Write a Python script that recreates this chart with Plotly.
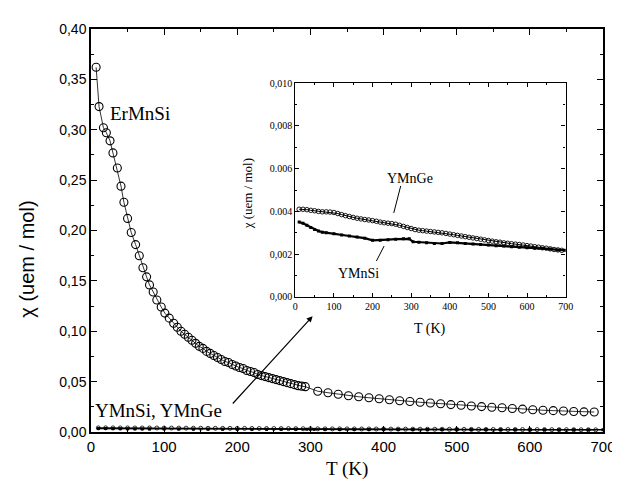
import plotly.graph_objects as go

# ---------------- data ----------------
er_T = [7, 11, 17, 21, 26, 30, 36, 41, 45, 50, 55, 61, 66, 71, 76, 80, 85, 90, 96, 101,
        107, 113, 118, 123, 128, 133, 138, 143, 148, 153, 158, 163, 168, 173, 178, 183,
        188, 193, 198, 203, 208, 213, 218, 223, 228, 233, 238, 243, 248, 253, 258, 263,
        268, 273, 278, 283, 288, 293,
        310, 324, 338, 352, 366, 380, 394, 408, 422, 436, 450, 464, 478, 492, 506, 520,
        534, 548, 562, 576, 590, 604, 618, 632, 646, 660, 674, 688]
er_chi = [0.362, 0.323, 0.302, 0.297, 0.289, 0.277, 0.262, 0.244, 0.228, 0.212, 0.198,
          0.186, 0.175, 0.163, 0.154, 0.146, 0.139, 0.131, 0.124, 0.118, 0.113, 0.108,
          0.104, 0.100, 0.097, 0.094, 0.091, 0.088, 0.085, 0.083, 0.080, 0.078, 0.076,
          0.074, 0.072, 0.070, 0.069, 0.067, 0.0655, 0.064, 0.063, 0.061, 0.060, 0.059,
          0.057, 0.056, 0.055, 0.054, 0.053, 0.052, 0.051, 0.050, 0.049, 0.048, 0.047,
          0.046, 0.0455, 0.045,
          0.0405, 0.039, 0.0375, 0.036, 0.035, 0.034, 0.033, 0.032, 0.031, 0.0302,
          0.0295, 0.0288, 0.0281, 0.0272, 0.0265, 0.0258, 0.0252, 0.0246, 0.0240,
          0.0233, 0.0227, 0.0221, 0.0216, 0.0212, 0.0208, 0.0204, 0.0200, 0.0198]

ge_T = [10, 20, 30, 40, 50, 60, 70, 80, 90, 100, 110, 120, 130, 140, 150, 160, 170, 180,
        190, 200, 210, 220, 230, 240, 250, 260, 270, 280, 290, 300, 310, 320, 330, 340,
        350, 360, 370, 380, 390, 400, 410, 420, 430, 440, 450, 460, 470, 480, 490, 500,
        510, 520, 530, 540, 550, 560, 570, 580, 590, 600, 610, 620, 630, 640, 650, 660,
        670, 680, 690]
ge_chi = [0.00410, 0.00410, 0.00408, 0.00405, 0.00403, 0.00400, 0.00398, 0.00398,
          0.00397, 0.00395, 0.00390, 0.00385, 0.00380, 0.00376, 0.00372, 0.00368,
          0.00365, 0.00362, 0.00360, 0.00357, 0.00354, 0.00350, 0.00347, 0.00345,
          0.00343, 0.00340, 0.00335, 0.00330, 0.00325, 0.00320, 0.00315, 0.00312,
          0.00310, 0.00308, 0.00306, 0.00304, 0.00302, 0.00300, 0.00297, 0.00294,
          0.00291, 0.00288, 0.00285, 0.00282, 0.00279, 0.00276, 0.00273, 0.00270,
          0.00267, 0.00264, 0.00261, 0.00258, 0.00256, 0.00253, 0.00251, 0.00249,
          0.00247, 0.00245, 0.00243, 0.00240, 0.00238, 0.00235, 0.00233, 0.00230,
          0.00228, 0.00225, 0.00222, 0.00220, 0.00218]

si_T = [10, 20, 30, 40, 50, 60, 70, 80, 100, 120, 140, 160, 180, 200, 220, 240, 260, 280,
        295, 305, 320, 340, 360, 380, 400, 420, 440, 460, 480, 500, 520, 540, 560, 580,
        600, 620, 640, 660, 680, 700]
si_chi = [0.00350, 0.00345, 0.00335, 0.00325, 0.00315, 0.00308, 0.00303, 0.00300,
          0.00295, 0.00290, 0.00285, 0.00280, 0.00275, 0.00265, 0.00265, 0.00268,
          0.00270, 0.00272, 0.00272, 0.00258, 0.00256, 0.00254, 0.00250, 0.00250,
          0.00255, 0.00253, 0.00250, 0.00248, 0.00245, 0.00243, 0.00240, 0.00238,
          0.00235, 0.00233, 0.00230, 0.00228, 0.00228, 0.00224, 0.00220, 0.00218]

main_xticks = [0, 100, 200, 300, 400, 500, 600, 700]
main_yticks = [0.0, 0.05, 0.10, 0.15, 0.20, 0.25, 0.30, 0.35, 0.40]
main_ytext = ["0,00", "0,05", "0,10", "0,15", "0,20", "0,25", "0,30", "0,35", "0,40"]
inset_yticks = [0.0, 0.002, 0.004, 0.006, 0.008, 0.010]
inset_ytext = ["0,000", "0,002", "0.004", "0.006", "0,008", "0,010"]

SERIF = "Liberation Serif, Times New Roman, serif"
SANS = "Liberation Sans, Arial, sans-serif"

fig = go.Figure()

# main plot
fig.add_trace(go.Scatter(x=er_T, y=er_chi, mode="lines+markers",
                         line=dict(color="black", width=0.8),
                         marker=dict(symbol="circle-open", size=8, color="black",
                                     line=dict(width=1.1)),
                         xaxis="x", yaxis="y", showlegend=False))
fig.add_trace(go.Scatter(x=ge_T, y=ge_chi, mode="lines+markers",
                         line=dict(color="black", width=1),
                         marker=dict(symbol="circle-open", size=4, color="black",
                                     line=dict(width=0.8)),
                         xaxis="x", yaxis="y", showlegend=False))
fig.add_trace(go.Scatter(x=si_T, y=si_chi, mode="lines+markers",
                         line=dict(color="black", width=1.5),
                         marker=dict(symbol="square", size=3, color="black"),
                         xaxis="x", yaxis="y", showlegend=False))

# inset
fig.add_trace(go.Scatter(x=ge_T, y=ge_chi, mode="lines+markers",
                         line=dict(color="black", width=1),
                         marker=dict(symbol="circle-open", size=4.5, color="black",
                                     line=dict(width=0.9)),
                         xaxis="x2", yaxis="y2", showlegend=False))
fig.add_trace(go.Scatter(x=si_T, y=si_chi, mode="lines+markers",
                         line=dict(color="black", width=2.2),
                         marker=dict(symbol="square", size=3, color="black"),
                         xaxis="x2", yaxis="y2", showlegend=False))

axis_common = dict(showgrid=False, zeroline=False, showline=True, linecolor="black",
                   linewidth=1.5, mirror="ticks", ticks="inside", tickcolor="black",
                   ticklen=6, tickwidth=1.2)

fig.update_layout(
    width=620, height=482,
    margin=dict(l=83, r=13, t=21, b=58),
    paper_bgcolor="white", plot_bgcolor="white",
    xaxis=dict(**axis_common, range=[0, 700], tickvals=main_xticks,
               minor=dict(ticks="inside", dtick=50, ticklen=3, tickcolor="black"),
               tickfont=dict(family=SANS, size=15, color="black"), domain=[0, 1]),
    yaxis=dict(**axis_common, range=[0, 0.40], tickvals=main_yticks, ticktext=main_ytext,
               minor=dict(ticks="inside", dtick=0.025, ticklen=3, tickcolor="black"),
               tickfont=dict(family=SANS, size=14, color="black"), domain=[0, 1]),
    xaxis2=dict(**{**axis_common, "ticklen": 4, "linewidth": 1.3}, range=[0, 700],
                tickvals=main_xticks,
                minor=dict(ticks="inside", dtick=50, ticklen=2, tickcolor="black"),
                tickfont=dict(family=SERIF, size=10, color="black"),
                domain=[0.399, 0.927], anchor="y2"),
    yaxis2=dict(**{**axis_common, "ticklen": 4, "linewidth": 1.3}, range=[0, 0.010],
                tickvals=inset_yticks, ticktext=inset_ytext,
                minor=dict(ticks="inside", dtick=0.001, ticklen=2, tickcolor="black"),
                tickfont=dict(family=SERIF, size=10, color="black"),
                domain=[0.335, 0.866], anchor="x2"),
)

ann = []
# axis titles
ann.append(dict(text="χ (uem / mol)", xref="paper", yref="paper", x=-0.124, y=0.429,
                textangle=-90, showarrow=False, xanchor="center", yanchor="middle",
                font=dict(family=SANS, size=20, color="black")))
ann.append(dict(text="T (K)", xref="paper", yref="paper", x=0.5, y=-0.092,
                showarrow=False, xanchor="center", yanchor="middle",
                font=dict(family=SERIF, size=19, color="black")))
ann.append(dict(text="T (K)", xref="paper", yref="paper", x=0.662, y=0.256,
                showarrow=False, xanchor="center", yanchor="middle",
                font=dict(family=SERIF, size=14, color="black")))
ann.append(dict(text="χ (uem / mol)", xref="paper", yref="paper",
                x=(243 - 83) / 524, y=(424 - 186) / 403, textangle=-90,
                showarrow=False, xanchor="center", yanchor="middle",
                font=dict(family=SERIF, size=13, color="black")))
# labels
ann.append(dict(text="ErMnSi", x=67, y=0.3166, xref="x", yref="y", showarrow=False,
                font=dict(family=SERIF, size=19, color="black")))
ann.append(dict(text="YMnSi, YMnGe", x=92, y=0.0218, xref="x", yref="y", showarrow=False,
                font=dict(family=SERIF, size=19, color="black")))
ann.append(dict(text="", x=303, y=0.115, ax=192, ay=0.0268, xref="x", yref="y",
                axref="x", ayref="y", showarrow=True, arrowhead=2, arrowsize=1,
                arrowwidth=1.2, arrowcolor="black"))
ann.append(dict(text="YMnGe", x=298, y=0.00556, xref="x2", yref="y2", showarrow=False,
                font=dict(family=SERIF, size=14, color="black")))
ann.append(dict(text="YMnSi", x=164, y=0.00112, xref="x2", yref="y2", showarrow=False,
                font=dict(family=SERIF, size=14, color="black")))
fig.update_layout(annotations=ann)

fig.add_shape(type="line", xref="x2", yref="y2", x0=273, y0=0.00519, x1=255, y1=0.00393,
              line=dict(color="black", width=1))
fig.add_shape(type="line", xref="x2", yref="y2", x0=230, y0=0.00238, x1=210, y1=0.00168,
              line=dict(color="black", width=1))

fig.write_html("out.html")
